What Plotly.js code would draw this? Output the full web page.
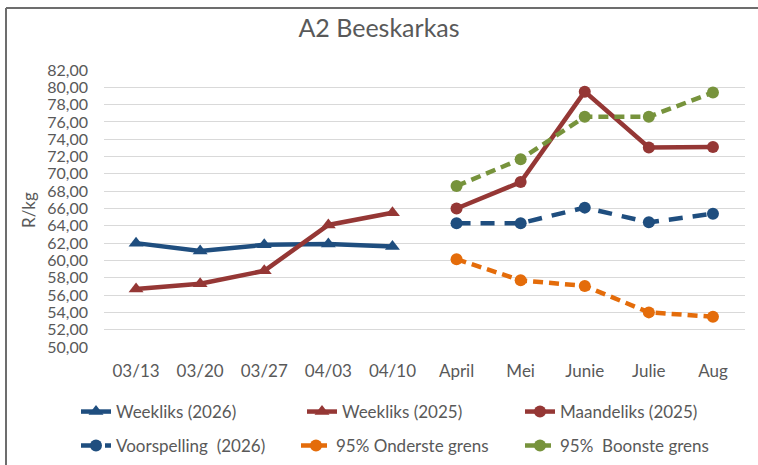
<!DOCTYPE html>
<html>
<head>
<meta charset="utf-8">
<script src="https://cdn.plot.ly/plotly-3.0.1.min.js"></script>
<style>html,body{margin:0;padding:0;background:#fff;}#chart{width:758px;height:465px;}</style>
</head>
<body>
<div id="chart"></div>
<script>
var categories = ["03/13","03/20","03/27","04/03","04/10","April","Mei","Junie","Julie","Aug"];
var weeklyCats = ["03/13","03/20","03/27","04/03","04/10"];
var monthCats = ["April","Mei","Junie","Julie","Aug"];

var weekliks2026 = [62.0, 61.1, 61.8, 61.9, 61.6];
var weekliks2025 = [56.7, 57.3, 58.8, 64.1, 65.5];
var maandeliks2025 = [66.0, 69.05, 79.5, 73.05, 73.1];
var voorspelling2026 = [64.3, 64.3, 66.1, 64.4, 65.4];
var onderste95 = [60.15, 57.7, 57.05, 54.0, 53.5];
var boonste95 = [68.6, 71.7, 76.6, 76.6, 79.4];

var names = ["Weekliks (2026)","Weekliks (2025)","Maandeliks (2025)","Voorspelling  (2026)","95% Onderste grens","95%  Boonste grens"];

var blue = "#1F4E7F", red = "#953735", orange = "#E46C0A", green = "#77933C";
var lw = 4.5;

var traces = [
  {x: weeklyCats, y: weekliks2026, name: names[0], mode: "lines+markers",
   line: {color: blue, width: lw}, marker: {symbol: "triangle-up", size: 13, color: blue}, legend: "legend"},
  {x: weeklyCats, y: weekliks2025, name: names[1], mode: "lines+markers",
   line: {color: red, width: lw}, marker: {symbol: "triangle-up", size: 13, color: red}, legend: "legend2"},
  {x: monthCats, y: maandeliks2025, name: names[2], mode: "lines+markers",
   line: {color: red, width: lw}, marker: {symbol: "circle", size: 12, color: red}, legend: "legend3"},
  {x: monthCats, y: voorspelling2026, name: names[3], mode: "lines+markers",
   line: {color: blue, width: lw, dash: "14px,10px"}, marker: {symbol: "circle", size: 12, color: blue}, legend: "legend4"},
  {x: monthCats, y: onderste95, name: names[4], mode: "lines+markers",
   line: {color: orange, width: lw, dash: "10px,6px"}, marker: {symbol: "circle", size: 12, color: orange}, legend: "legend5"},
  {x: monthCats, y: boonste95, name: names[5], mode: "lines+markers",
   line: {color: green, width: lw, dash: "10px,6px"}, marker: {symbol: "circle", size: 12, color: green}, legend: "legend6"}
];

var font = "Lato, 'Open Sans', sans-serif";
var txt = "#595959";

function legendCfg(xp, yc) {
  return {orientation: "h", xref: "container", yref: "container",
          x: xp/758, xanchor: "left", y: 1 - yc/465, yanchor: "middle",
          font: {size: 17, color: txt}, bgcolor: "rgba(0,0,0,0)", itemwidth: 30};
}

var layout = {
  width: 758, height: 465,
  margin: {l: 104, r: 13, t: 70, b: 118, autoexpand: false},
  paper_bgcolor: "#fff", plot_bgcolor: "#fff",
  font: {family: font, color: txt, size: 17},
  separators: ",.",
  title: {text: "A2 Beeskarkas", font: {family: font, size: 25, color: txt},
          x: 0.5, xref: "container", y: 1 - 28/465, yref: "container", yanchor: "middle"},
  xaxis: {type: "category", categoryorder: "array", categoryarray: categories, range: [-0.5, 9.5],
          showgrid: false, zeroline: false, showline: false, ticks: "",
          tickfont: {size: 17, color: txt}, ticklabelstandoff: 12, fixedrange: true, automargin: false},
  yaxis: {range: [50, 82], dtick: 2, tickformat: ".2f", showgrid: true,
          gridcolor: "#D9D9D9", gridwidth: 1, zeroline: false, showline: false, ticks: "",
          tickfont: {size: 16, color: txt}, ticklabelstandoff: 15, fixedrange: true, automargin: false},
  showlegend: true,
  legend: legendCfg(76, 412),
  legend2: legendCfg(302, 412),
  legend3: legendCfg(520, 412),
  legend4: legendCfg(76, 446),
  legend5: legendCfg(296, 446),
  legend6: legendCfg(520, 446),
  annotations: [
    {text: "R/kg", xref: "paper", yref: "paper", x: (28-104)/641, y: 1 - 140/277,
     xanchor: "center", yanchor: "middle", textangle: -90, showarrow: false,
     font: {size: 17, color: txt}}
  ],
  shapes: [
    {type: "line", xref: "paper", yref: "paper", x0: (6-104)/641, x1: (760-104)/641,
     y0: 1 + 62/277, y1: 1 + 62/277, line: {color: "#6d6d6d", width: 2}},
    {type: "line", xref: "paper", yref: "paper", x0: (6-104)/641, x1: (6-104)/641,
     y0: 1 + 62/277, y1: 1 - 400/277, line: {color: "#6d6d6d", width: 2}}
  ]
};

Plotly.newPlot("chart", traces, layout, {staticPlot: true, displayModeBar: false});
</script>
</body>
</html>
